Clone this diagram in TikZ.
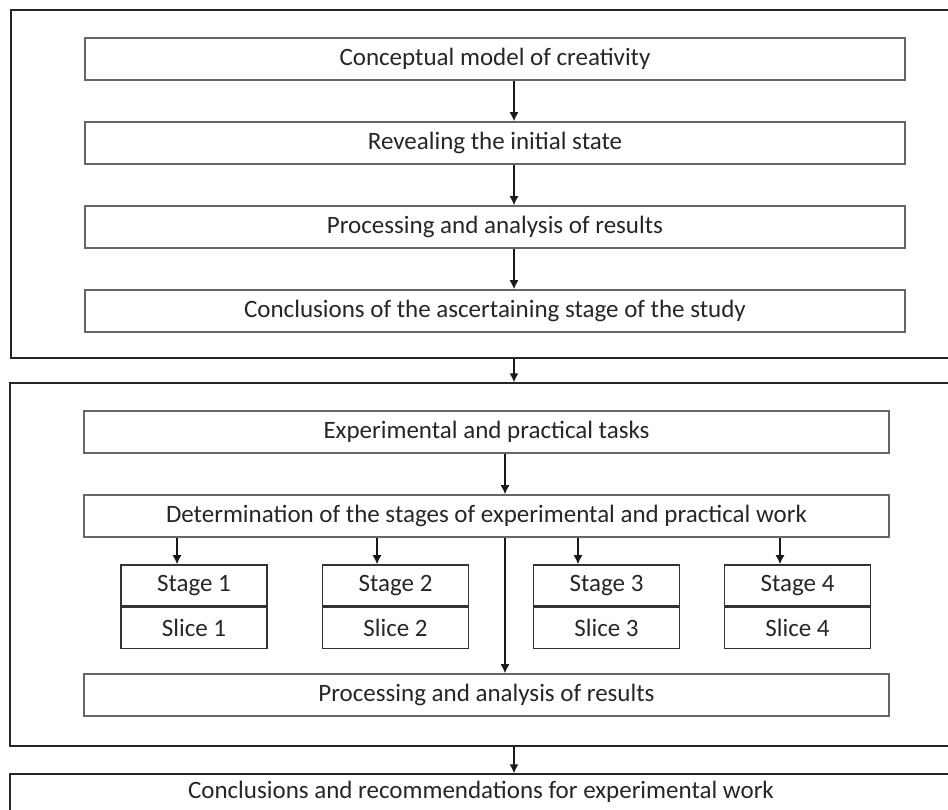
\documentclass[tikz,border=0pt]{standalone}
\usepackage{fontspec}
\setmainfont{Carlito}
\usetikzlibrary{arrows.meta,positioning}

\begin{document}
\begin{tikzpicture}[x=0.5pt,y=-0.5pt,>={Latex[length=4.5pt,width=4.5pt]},
	box/.style={draw=black!60,line width=0.8pt,minimum height=21pt,inner sep=0pt,text=black!85,font=\fontsize{12.5}{14}\selectfont},
	stagebox/.style={box,draw=black!80,minimum width=73pt,minimum height=20.5pt},
	frame/.style={draw=black!85,line width=0.7pt,inner sep=0pt,text=black!85,font=\fontsize{12.5}{14}\selectfont},
	node distance=42pt]

\useasboundingbox (0,0) rectangle (948,809);

% frames
\node[frame,minimum width=470.5pt,minimum height=174pt] (f1) at (481.5,184) {};
\node[frame,minimum width=471pt,minimum height=181.5pt] (f2) at (481,564.5) {};
\node[frame,minimum width=471pt,text height=12pt,text depth=12pt] (f3) at (481,798) {Conclusions and recommendations for experimental work};

% ascertaining stage
\node[box,minimum width=410pt] (c1) at (495,59) {Conceptual model of creativity};
	\node[box,minimum width=410pt] (c2) [below of=c1] {Revealing the initial state};
	\node[box,minimum width=410pt] (c3) [below of=c2] {Processing and analysis of results};
	\node[box,minimum width=410pt] (c4) [below of=c3] {Conclusions of the ascertaining stage of the study};

% experimental stage
\node[box,minimum width=402.5pt] (e1) at (486.5,432) {Experimental and practical tasks};
	\node[box,minimum width=402.5pt] (e2) [below of=e1] {Determination of the stages of experimental and practical work};
	\node[box,minimum width=402.5pt] (e3) at (486.5,695) {Processing and analysis of results};

\coordinate (ax) at (514,0);
\coordinate (bx) at (505,0);

\foreach \i/\x/\a in {1/194/177,2/395.5/377,3/606.5/578,4/797.5/780}{
	\node[stagebox] (st\i) at (\x,585.5) {Stage \i};
	\node[stagebox,below=0pt of st\i] (sl\i) {Slice \i};
	\coordinate (a\i) at (\a,0);
	\draw[->,black!90,line width=0.7pt] (e2.south -| a\i) -- (st\i.north -| a\i);
}

\path[->,color=black!90,line width=0.7pt]
	(c1.south -| ax) edge (c2.north -| ax)
	(c2.south -| ax) edge (c3.north -| ax)
	(c3.south -| ax) edge (c4.north -| ax)
	(f1.south -| ax) edge (f2.north -| ax)
	(f2.south -| ax) edge (f3.north -| ax)
	(e1.south -| bx) edge (e2.north -| bx)
	(e2.south -| bx) edge (e3.north -| bx);

\end{tikzpicture}
\end{document}
